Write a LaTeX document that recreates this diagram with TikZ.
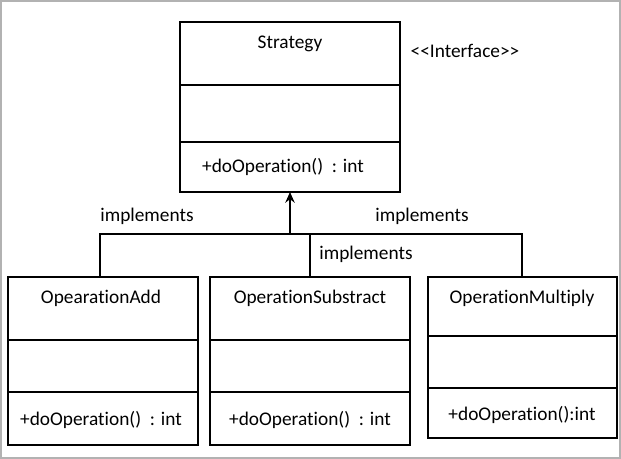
\documentclass[tikz,border=0pt]{standalone}
\usepackage{fontspec}
\setmainfont[Ligatures={NoCommon,TeXOff}]{Carlito}
\usetikzlibrary{arrows.meta}
\begin{document}
\begin{tikzpicture}[x=0.75pt,y=-0.75pt,
  box/.style={draw,line width=1.2pt},
  lbl/.style={font=\fontsize{14.5}{16}\selectfont,inner sep=0pt},
  conn/.style={line width=1.2pt}]
\useasboundingbox (0,0) rectangle (621,459);
\draw[gray!60,line width=1pt] (1,1) rectangle (620,458);
% Strategy
\draw[box] (180,22) rectangle (400,192);
\draw[box] (180,85) -- (400,85); \draw[box] (180,142) -- (400,142);
\node[lbl] (st) at (290,44) {Strategy};
\node[lbl] (stop) at (283,167) {+doOperation()\ \ : int};
\node[lbl] (iface) at (465,51) {{<}{<}Interface{>}{>}};
\coordinate (stb) at (290,192);
% Add
\draw[box] (8,277) rectangle (198,445);
\draw[box] (8,340) -- (198,340); \draw[box] (8,392) -- (198,392);
\node[lbl] (a) at (101,298) {OpearationAdd};
\node[lbl] (aop) at (101,420) {+doOperation()\ \ : int};
% Substract
\draw[box] (210,277) rectangle (410,445);
\draw[box] (210,340) -- (410,340); \draw[box] (210,392) -- (410,392);
\node[lbl] (s) at (310,298) {OperationSubstract};
\node[lbl] (sop) at (310,420) {+doOperation()\ \ : int};
% Multiply
\draw[box] (428,277) rectangle (617,438);
\draw[box] (428,336) -- (617,336); \draw[box] (428,388) -- (617,388);
\node[lbl] (m) at (522,298) {OperationMultiply};
\node[lbl] (mop) at (522,415) {+doOperation():int};
% connectors
\coordinate (ta) at (100,277); \coordinate (ts) at (310,277); \coordinate (tm) at (522,277);
\coordinate (j) at (290,234);
\draw[conn] (ta) -- (100,234) -- (522,234) -- (tm);
\draw[conn] (ts) -- (310,234);
\draw[line width=1.8pt,-{Stealth[length=8pt,width=7pt]}] (j) -- (stb);
\node[lbl] (i1) at (147,216) {implements};
\node[lbl] (i2) at (422,216) {implements};
\node[lbl] (i3) at (366,254) {implements};
\end{tikzpicture}
\end{document}
